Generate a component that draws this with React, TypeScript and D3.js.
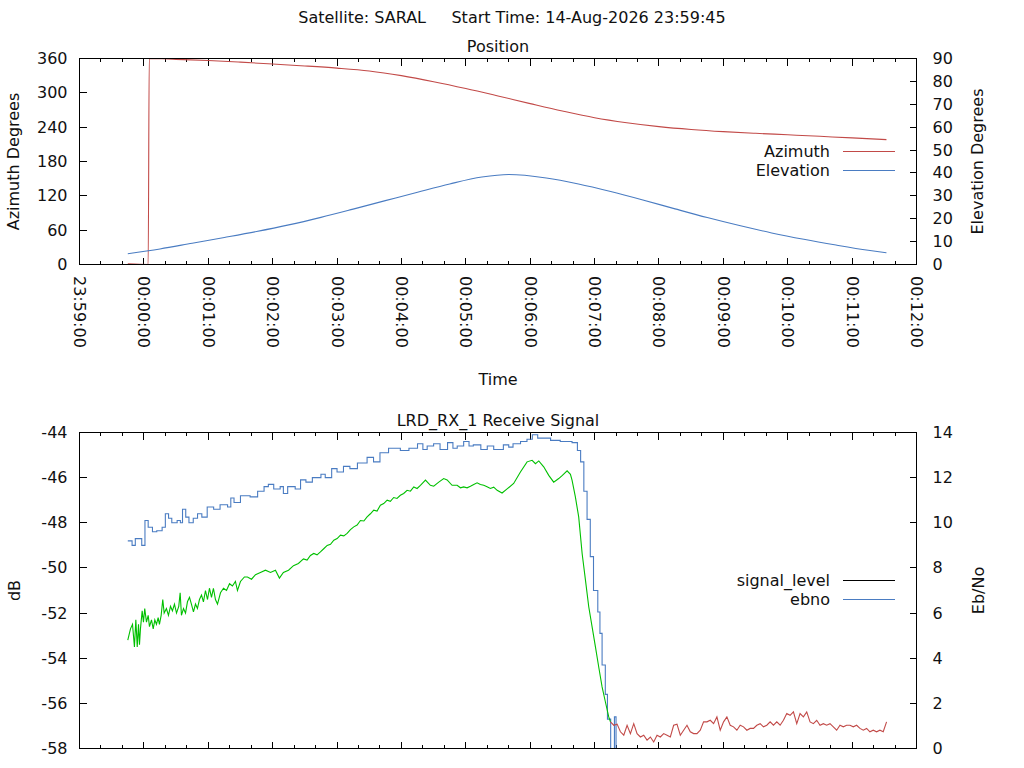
import { useEffect, useRef } from 'react';
import * as d3 from 'd3';

// all times are seconds relative to 15-Aug-2026 00:00:00
const passTitle = 'Satellite: SARAL     Start Time: 14-Aug-2026 23:59:45';

const azimuth: [number, number][] = [
  [-15, 1.2], [4, 0.1], [5, 359.9], [30, 358.5], [60, 356.5], [90, 353.6], [120, 350.3],
  [150, 347.0], [180, 343.2], [210, 338.2], [240, 330.0], [270, 319.5], [300, 307.6],
  [330, 294.6], [360, 281.2], [390, 268.2], [420, 256.5], [450, 247.8], [480, 241.0],
  [510, 236.0], [540, 232.2], [570, 229.3], [600, 226.7], [630, 224.0], [660, 221.2], [692, 218.2],
];

const elevation: [number, number][] = [
  [-15, 4.7], [15, 6.8], [45, 9.3], [75, 11.8], [105, 14.4], [135, 17.3], [165, 20.6],
  [195, 24.2], [225, 27.9], [255, 31.6], [285, 35.2], [315, 38.2], [340, 39.3], [375, 37.8],
  [405, 35.2], [435, 31.9], [465, 28.2], [495, 24.3], [525, 20.5], [555, 17.0], [585, 13.8],
  [615, 11.0], [645, 8.5], [675, 6.2], [692, 5.1],
];

const signalLevel: [number, number][] = [
  [-15, -48.8], [-11, -49.0], [-8, -48.7], [-2, -49.0], [1, -47.9], [4, -48.2], [8, -48.4],
  [12, -48.35], [17, -48.2], [20, -47.6], [23, -47.8], [26, -48.0], [31, -47.9], [34, -48.0],
  [36, -47.4], [39, -47.75], [42, -48.0], [46, -47.8], [50, -47.6], [54, -47.75], [59, -47.3],
  [65, -47.4], [71, -47.2], [78, -47.3], [81, -46.9], [84, -47.1], [90, -46.8], [99, -46.85],
  [106, -46.6], [112, -46.4], [116, -46.3], [121, -46.5], [127, -46.4], [130, -46.7],
  [134, -46.4], [141, -46.5], [146, -46.1], [151, -46.2], [157, -46.0], [165, -45.85],
  [169, -46.0], [175, -45.6], [180, -45.75], [186, -45.5], [192, -45.6], [199, -45.35],
  [208, -45.1], [214, -45.3], [220, -44.9], [228, -44.7], [239, -44.8], [247, -44.7],
  [255, -44.5], [260, -44.75], [264, -44.6], [270, -44.5], [276, -44.75], [283, -44.45],
  [288, -44.7], [292, -44.6], [298, -44.4], [303, -44.6], [307, -44.55], [314, -44.75],
  [320, -44.6], [326, -44.75], [335, -44.55], [340, -44.65], [344, -44.5], [351, -44.4],
  [357, -44.3], [362, -44.1], [367, -44.25], [379, -44.35], [388, -44.4], [399, -44.45],
  [404, -44.8], [407, -45.3], [410, -46.6], [413, -47.85], [416, -49.5], [419, -51.0],
  [423, -51.95], [425, -52.9], [427, -54.3], [430, -55.6], [432, -56.7], [435, -59.5],
  [438.5, -56.6], [440, -59.5], [692, -59.5],
];

const ebno: [number, number][] = [
  [-15, 4.8], [-12.5, 5.3], [-10.6, 5.5], [-8.8, 4.5], [-7.5, 5.7], [-6.2, 4.5], [-5, 5.5],
  [-4.1, 4.6], [-3.2, 5.3], [-1.6, 6.1], [-0.4, 5.6], [0.8, 6.2], [2.4, 5.6], [4, 5.9],
  [5.2, 5.4], [7.1, 5.7], [8.7, 5.3], [10.2, 5.7], [11.7, 5.5], [13.3, 5.8], [14.5, 5.5],
  [16.1, 5.9], [17.6, 6.6], [18.9, 6.0], [21, 6.2], [22.9, 5.9], [24.8, 6.3], [26.6, 6.1],
  [28.5, 6.4], [30.4, 6.0], [32.5, 6.3], [33.8, 6.9], [35, 5.9], [36.9, 6.2], [38.8, 6.0],
  [40.6, 6.5], [42.5, 6.7], [44.3, 6.4], [46.2, 6.05], [48.1, 6.4], [49.9, 6.2], [51.8, 6.6],
  [53.7, 6.8], [55.5, 6.5], [57.4, 7.0], [59.3, 6.6], [61.1, 7.1], [63, 6.7], [64.8, 7.1],
  [66.7, 6.6], [68.6, 6.4], [71.4, 6.9], [74.2, 7.1], [77, 7.0], [79.8, 7.3], [82.5, 7.2],
  [85.3, 7.4], [87.2, 7.0], [90, 7.4], [93.7, 7.6], [96.5, 7.6], [100.3, 7.5], [104, 7.7],
  [108.6, 7.8], [113.3, 7.9], [118, 7.8], [122.6, 7.9], [126.3, 7.55], [130, 7.8],
  [134.8, 7.9], [139.4, 8.1], [144, 8.2], [148.7, 8.4], [152.1, 8.35], [155.2, 8.55],
  [158.3, 8.64], [161.4, 8.58], [164.5, 8.71], [167.6, 8.85], [170.8, 9.0], [173.9, 9.05],
  [177, 9.23], [180.1, 9.3], [183.2, 9.45], [186.3, 9.42], [189.4, 9.53], [192.5, 9.7],
  [195.6, 9.82], [198.7, 9.9], [201.8, 10.1], [205, 10.08], [208, 10.26], [211.1, 10.4],
  [214.2, 10.56], [217.3, 10.52], [220.4, 10.78], [223.5, 10.85], [226.7, 11.0], [229.7, 10.95],
  [232.8, 11.12], [235.9, 11.08], [239, 11.22], [242.1, 11.3], [245.3, 11.44], [248.4, 11.4],
  [251.5, 11.59], [254.6, 11.52], [257.7, 11.66], [262.4, 11.89], [267, 11.66],
  [270.1, 11.62], [274.8, 11.8], [279.4, 11.96], [282.6, 11.9], [287.2, 11.66], [291.9, 11.66],
  [295, 11.55], [298, 11.59], [301.2, 11.55], [304.3, 11.62], [307.4, 11.7], [310.5, 11.77],
  [313.6, 11.7], [316.7, 11.66], [319.8, 11.6], [322.9, 11.52], [326, 11.58], [329.2, 11.44],
  [333.8, 11.32], [338.5, 11.5], [344.6, 11.74], [350.9, 12.25], [357.1, 12.7], [361.8, 12.77],
  [364.9, 12.62], [368, 12.74], [372.6, 12.48], [377.3, 12.1], [381.9, 11.8], [386.6, 11.96],
  [390, 12.1], [394.4, 12.3], [397.5, 12.15], [399, 11.89], [402.1, 11.15], [405.2, 10.26],
  [408.4, 8.64], [411.5, 7.46], [414.6, 6.27], [417.7, 5.39], [420.8, 4.5], [423.9, 3.6],
  [427, 2.73], [430.1, 2.06], [433.2, 1.4], [434.8, 1.18],
];

// ebno after loss of lock, one sample every 3.1 s from 434.8 s
const ebnoLostStart = 434.8;
const ebnoLostStep = 3.1;
const ebnoLost = [
  1.18, 1.03, 1.08, 0.74, 0.59, 1.03, 0.66, 1.10, 0.66, 0.51,
  0.59, 0.37, 0.51, 0.29, 0.59, 0.51, 0.66, 0.59, 0.51, 1.03,
  1.08, 0.59, 0.81, 1.03, 0.74, 0.66, 0.66, 0.81, 1.18, 1.18,
  1.25, 1.10, 1.40, 0.81, 1.18, 1.40, 1.03, 0.96, 0.81, 1.03,
  0.96, 0.81, 0.89, 0.89, 1.03, 1.10, 0.96, 1.03, 1.18, 1.03,
  1.18, 1.03, 1.25, 1.55, 1.47, 1.62, 1.10, 1.55,
  1.40, 1.62, 1.18, 1.10, 1.25, 1.03, 1.10, 1.03, 1.10, 0.96,
  0.81, 1.03, 0.96, 1.03, 1.03, 0.96, 1.03, 0.89, 0.81, 0.89,
  0.74, 0.81, 0.74, 0.81, 0.74, 1.18,
];

const azTicks = [0, 60, 120, 180, 240, 300, 360];
const elTicks = [0, 10, 20, 30, 40, 50, 60, 70, 80, 90];
const dbTicks = [-58, -56, -54, -52, -50, -48, -46, -44];
const ebTicks = [0, 2, 4, 6, 8, 10, 12, 14];

const RED = '#c24a48';
const BLUE = '#4a7cc2';
const GREEN = '#00c000';
const FONT = '"DejaVu Sans", sans-serif';
const FS = '16px';

const base = new Date(2026, 7, 15, 0, 0, 0).getTime();
const at = (s: number) => new Date(base + s * 1000);

export default function App() {
  const svgRef = useRef<SVGSVGElement>(null);

  useEffect(() => {
    if (!svgRef.current) return;
    const svg = d3.select(svgRef.current);
    svg.selectAll('*').remove();

    const left = 79.5;
    const right = 916.5;
    const top1 = 58.5, bottom1 = 264.5;
    const top2 = 432.5, bottom2 = 748.5;

    const x = d3.scaleTime().domain([at(-60), at(720)]).range([left, right]);
    const yAz = d3.scaleLinear().domain([0, 360]).range([bottom1, top1]);
    const yEl = d3.scaleLinear().domain([0, 90]).range([bottom1, top1]);
    const yDb = d3.scaleLinear().domain([-58, -44]).range([bottom2, top2]);
    const yEb = d3.scaleLinear().domain([0, 14]).range([bottom2, top2]);

    const majors = x.ticks(d3.timeMinute.every(1)!);
    const minors = x.ticks(d3.timeSecond.every(20)!).filter(d => d.getSeconds() !== 0);
    const snap = (v: number) => Math.round(v - 0.5) + 0.5;

    const text = (parent: any, tx: number, ty: number, s: string, anchor = 'middle') =>
      parent.append('text')
        .attr('x', tx)
        .attr('y', ty)
        .attr('text-anchor', anchor)
        .style('font-family', FONT)
        .style('font-size', FS)
        .style('fill', '#111')
        .style('white-space', 'pre')
        .text(s);

    const panel = (
      top: number, bottom: number,
      yL: d3.ScaleLinear<number, number>, yR: d3.ScaleLinear<number, number>,
      lTicks: number[], rTicks: number[], id: string,
    ) => {
      const g = svg.append('g');
      g.append('clipPath').attr('id', id)
        .append('rect')
        .attr('x', left).attr('y', top)
        .attr('width', right - left).attr('height', bottom - top);

      const tk = g.append('g')
        .attr('stroke', '#000')
        .attr('stroke-width', 1)
        .attr('shape-rendering', 'crispEdges');

      majors.forEach(d => {
        const px = snap(x(d));
        tk.append('line').attr('x1', px).attr('x2', px).attr('y1', bottom).attr('y2', bottom - 7);
        tk.append('line').attr('x1', px).attr('x2', px).attr('y1', top).attr('y2', top + 7);
      });
      minors.forEach(d => {
        const px = snap(x(d));
        tk.append('line').attr('x1', px).attr('x2', px).attr('y1', bottom).attr('y2', bottom - 3.5);
        tk.append('line').attr('x1', px).attr('x2', px).attr('y1', top).attr('y2', top + 3.5);
      });
      lTicks.forEach(v => {
        const py = snap(yL(v));
        tk.append('line').attr('x1', left).attr('x2', left + 7).attr('y1', py).attr('y2', py);
        text(g, left - 12, py, String(v), 'end').attr('dy', '0.36em');
      });
      rTicks.forEach(v => {
        const py = snap(yR(v));
        tk.append('line').attr('x1', right).attr('x2', right - 7).attr('y1', py).attr('y2', py);
        text(g, right + 16, py, String(v), 'start').attr('dy', '0.36em');
      });
      return g;
    };

    const frame = (top: number, bottom: number) =>
      svg.append('rect')
        .attr('x', left).attr('y', top)
        .attr('width', right - left).attr('height', bottom - top)
        .attr('fill', 'none')
        .attr('stroke', '#000')
        .attr('shape-rendering', 'crispEdges');

    const series = (g: any, clip: string, pts: [number, number][], y: any, color: string, curve: any) =>
      g.append('path')
        .datum(pts)
        .attr('clip-path', `url(#${clip})`)
        .attr('fill', 'none')
        .attr('stroke', color)
        .attr('stroke-width', 1.1)
        .attr('d', d3.line<[number, number]>()
          .x(d => x(at(d[0])))
          .y(d => y(d[1]))
          .curve(curve));

    const legend = (g: any, lx: number, ly: number, label: string, color: string) => {
      text(g, lx, ly, label, 'end').attr('dy', '0.36em');
      g.append('line')
        .attr('x1', lx + 13).attr('x2', lx + 65)
        .attr('y1', ly).attr('y2', ly)
        .attr('stroke', color)
        .attr('shape-rendering', 'crispEdges');
    };

    // title
    text(svg, 512, 23, passTitle);

    // position panel
    const p1 = panel(top1, bottom1, yAz, yEl, azTicks, elTicks, 'clip-pos');
    text(p1, (left + right) / 2, 52, 'Position');
    series(p1, 'clip-pos', azimuth, yAz, RED, d3.curveMonotoneX);
    series(p1, 'clip-pos', elevation, yEl, BLUE, d3.curveMonotoneX);
    legend(p1, 830, 151.5, 'Azimuth', RED);
    legend(p1, 830, 170.5, 'Elevation', BLUE);
    frame(top1, bottom1);

    const fmt = d3.timeFormat('%H:%M:%S');
    majors.forEach(d => {
      text(p1, 0, 0, fmt(d), 'start')
        .attr('dy', '0.36em')
        .attr('transform', `translate(${snap(x(d))},276) rotate(90)`);
    });
    text(p1, (left + right) / 2, 385, 'Time');
    text(p1, 0, 0, 'Azimuth Degrees')
      .attr('dy', '0.36em')
      .attr('transform', `translate(13.5,${(top1 + bottom1) / 2}) rotate(-90)`);
    text(p1, 0, 0, 'Elevation Degrees')
      .attr('dy', '0.36em')
      .attr('transform', `translate(977,${(top1 + bottom1) / 2}) rotate(-90)`);

    // receive signal panel
    const p2 = panel(top2, bottom2, yDb, yEb, dbTicks, ebTicks, 'clip-sig');
    text(p2, (left + right) / 2, 426, 'LRD_RX_1 Receive Signal');
    series(p2, 'clip-sig', signalLevel, yDb, BLUE, d3.curveStepAfter);
    series(p2, 'clip-sig', ebno, yEb, GREEN, d3.curveLinear);
    const lost: [number, number][] = ebnoLost.map((v, i) => [ebnoLostStart + i * ebnoLostStep, v]);
    series(p2, 'clip-sig', lost, yEb, RED, d3.curveLinear);
    legend(p2, 830, 580.5, 'signal_level', '#000');
    legend(p2, 830, 599.5, 'ebno', BLUE);
    frame(top2, bottom2);

    text(p2, 0, 0, 'dB')
      .attr('dy', '0.36em')
      .attr('transform', `translate(14,${(top2 + bottom2) / 2}) rotate(-90)`);
    text(p2, 0, 0, 'Eb/No')
      .attr('dy', '0.36em')
      .attr('transform', `translate(978,${(top2 + bottom2) / 2}) rotate(-90)`);
  }, []);

  return (
    <div style={{ position: 'fixed', left: 0, top: 0, width: 1024, height: 768, background: '#fff' }}>
      <svg ref={svgRef} width={1024} height={768}></svg>
    </div>
  );
}
